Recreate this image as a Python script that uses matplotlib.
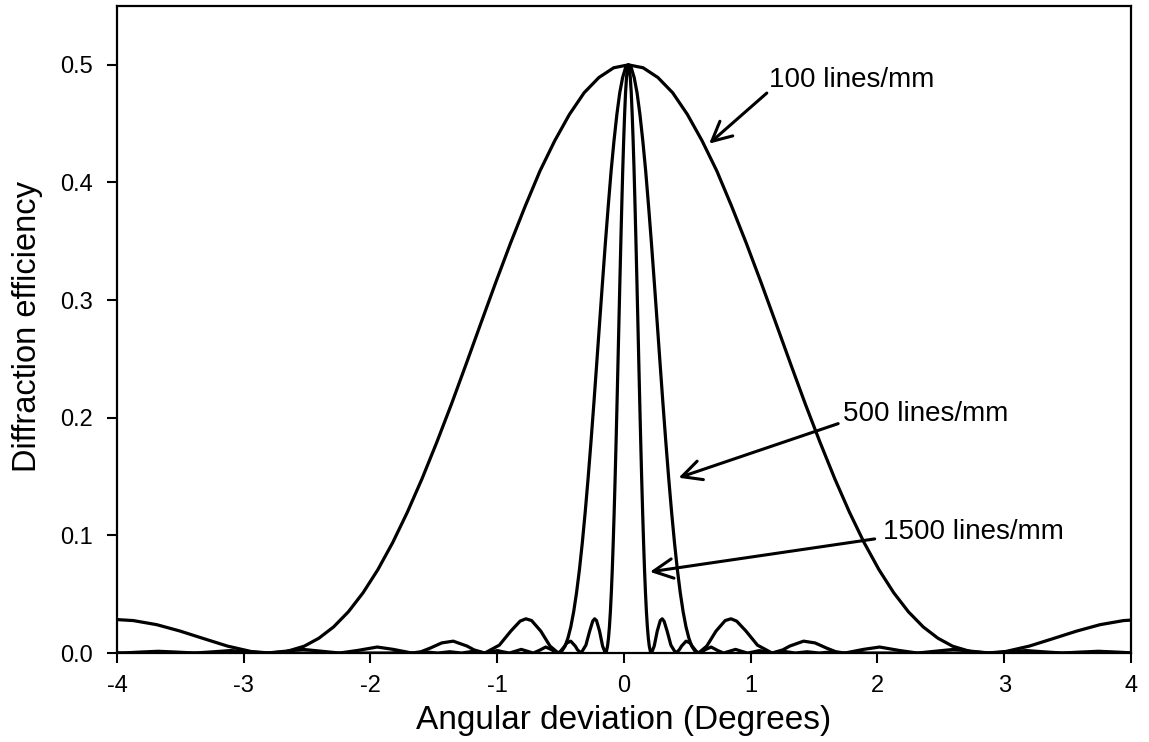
import matplotlib
matplotlib.use('Agg')
import matplotlib.pyplot as plt
import numpy as np

plt.rcParams['font.family'] = ['Liberation Sans', 'DejaVu Sans']
plt.rcParams['axes.unicode_minus'] = False

# all three curves peak at the same angle; profiles are read one-sided (offset from peak)
peak_deg = 0.035

off_100 = [0, 0.116, 0.233, 0.349, 0.465, 0.581, 0.698, 0.814, 0.930, 1.047,
           1.163, 1.279, 1.395, 1.512, 1.628, 1.744, 1.860, 1.977, 2.093, 2.209,
           2.326, 2.442, 2.558, 2.698, 2.830, 2.977, 3.163, 3.349, 3.535, 3.721,
           3.907, 4.140]
eff_100 = [0.500, 0.4975, 0.4892, 0.4763, 0.4579, 0.4355, 0.4097, 0.3799, 0.3484, 0.3149,
           0.2806, 0.2460, 0.2119, 0.1791, 0.1482, 0.1197, 0.0938, 0.0708, 0.0513, 0.0351,
           0.0222, 0.0126, 0.0058, 0.0013, 0.0, 0.0013, 0.0059, 0.0122, 0.0186, 0.0241,
           0.0276, 0.0291]

off_500 = [0, 0.0227, 0.0455, 0.0682, 0.0909, 0.1136, 0.1364, 0.1591, 0.1818, 0.2045,
           0.2273, 0.2500, 0.2727, 0.2955, 0.3182, 0.3409, 0.3636, 0.3864, 0.4091, 0.4318,
           0.4545, 0.4773, 0.5000, 0.5273, 0.5531,
           0.6182, 0.6909, 0.7636, 0.8091, 0.8545, 0.9273, 1.0182, 1.1335,
           1.2182, 1.2727, 1.3818, 1.4727, 1.5636, 1.6364, 1.7076,
           1.8545, 1.9818, 2.1364, 2.2800, 2.4182, 2.5673, 2.7091, 2.8527,
           3.0000, 3.1400, 3.2818, 3.4236, 3.5636, 3.7091, 3.8545, 3.9964, 4.1455]
eff_500 = [0.500, 0.4975, 0.4892, 0.4763, 0.4579, 0.4355, 0.4097, 0.3799, 0.3484, 0.3149,
           0.2806, 0.2460, 0.2119, 0.1791, 0.1482, 0.1197, 0.0938, 0.0708, 0.0513, 0.0351,
           0.0222, 0.0126, 0.0058, 0.0013, 0.0,
           0.0059, 0.0186, 0.0276, 0.0291, 0.0271, 0.0187, 0.0067, 0.0,
           0.0027, 0.0059, 0.0101, 0.0086, 0.0042, 0.0011, 0.0,
           0.0031, 0.0051, 0.0022, 0.0, 0.0015, 0.0031, 0.0015, 0.0,
           0.0010, 0.0021, 0.0010, 0.0, 0.0008, 0.0015, 0.0008, 0.0, 0.0006]

off_1500 = [0, 0.0075, 0.0150, 0.0225, 0.0299, 0.0374, 0.0449, 0.0524, 0.0599, 0.0674,
            0.0749, 0.0823, 0.0898, 0.0973, 0.1048, 0.1123, 0.1198, 0.1272, 0.1347, 0.1422,
            0.1497, 0.1572, 0.1647, 0.1737, 0.1822,
            0.2036, 0.2275, 0.2515, 0.2665, 0.2814, 0.3054, 0.3353, 0.3733,
            0.4012, 0.4192, 0.4551, 0.4850, 0.5150, 0.5389, 0.5624,
            0.6108, 0.6527, 0.7036, 0.7509, 0.7964, 0.8455, 0.8922, 0.9395,
            0.9880, 1.0341, 1.0808, 1.1275, 1.2216, 1.3162, 1.4102, 1.5042,
            1.5988, 1.6922, 1.7868, 1.8802, 4.1]
eff_1500 = [0.500, 0.4975, 0.4892, 0.4763, 0.4579, 0.4355, 0.4097, 0.3799, 0.3484, 0.3149,
            0.2806, 0.2460, 0.2119, 0.1791, 0.1482, 0.1197, 0.0938, 0.0708, 0.0513, 0.0351,
            0.0222, 0.0126, 0.0058, 0.0013, 0.0,
            0.0059, 0.0186, 0.0276, 0.0291, 0.0271, 0.0187, 0.0067, 0.0,
            0.0027, 0.0059, 0.0101, 0.0086, 0.0042, 0.0011, 0.0,
            0.0031, 0.0051, 0.0022, 0.0, 0.0015, 0.0031, 0.0015, 0.0,
            0.0010, 0.0021, 0.0010, 0.0, 0.0015, 0.0, 0.0011, 0.0,
            0.0009, 0.0, 0.0007, 0.0, 0.0]

labels = ['100 lines/mm', '500 lines/mm', '1500 lines/mm']
label_xy = [(1.143, 0.487), (1.731, 0.203), (2.046, 0.103)]
arrow_tail = [(1.127, 0.476), (1.690, 0.195), (1.978, 0.097)]
arrow_head = [(0.672, 0.433), (0.431, 0.149), (0.205, 0.069)]


def full_curve(off, eff):
    off = np.asarray(off)
    eff = np.asarray(eff)
    x = np.concatenate([peak_deg - off[::-1], peak_deg + off[1:]])
    y = np.concatenate([eff[::-1], eff[1:]])
    return x, y


fig, ax = plt.subplots(figsize=(11.49, 7.42), dpi=100)
fig.subplots_adjust(left=0.1018, right=0.9843, bottom=0.1199, top=0.9919)

for off, eff in [(off_100, eff_100), (off_500, eff_500), (off_1500, eff_1500)]:
    x, y = full_curve(off, eff)
    ax.plot(x, y, color='black', lw=2.3, solid_joinstyle='round')

for text, pos, tail, head in zip(labels, label_xy, arrow_tail, arrow_head):
    ax.text(pos[0], pos[1], text, ha='left', va='center', fontsize=20)
    ax.annotate('', xy=head, xytext=tail,
                arrowprops=dict(arrowstyle='->,head_length=0.7,head_width=0.35',
                                lw=2.2, color='black', mutation_scale=20,
                                shrinkA=0, shrinkB=0))

ax.set_xlim(-4, 4)
ax.set_ylim(0, 0.55)
ax.set_xticks(range(-4, 5))
ax.set_yticks([0.0, 0.1, 0.2, 0.3, 0.4, 0.5])
ax.yaxis.set_major_formatter(matplotlib.ticker.FormatStrFormatter('%.1f'))
ax.tick_params(direction='out', length=7, width=1.5, labelsize=17,
               top=False, right=False)
ax.tick_params(axis='x', pad=9)
ax.tick_params(axis='y', pad=10)
for sp in ax.spines.values():
    sp.set_linewidth(1.6)

ax.set_xlabel('Angular deviation (Degrees)', fontsize=24)
ax.set_ylabel('Diffraction efficiency', fontsize=23.5)
ax.xaxis.set_label_coords(0.5, -0.080)
ax.yaxis.set_label_coords(-0.073, 0.505)

fig.savefig('out.png', dpi=100)
